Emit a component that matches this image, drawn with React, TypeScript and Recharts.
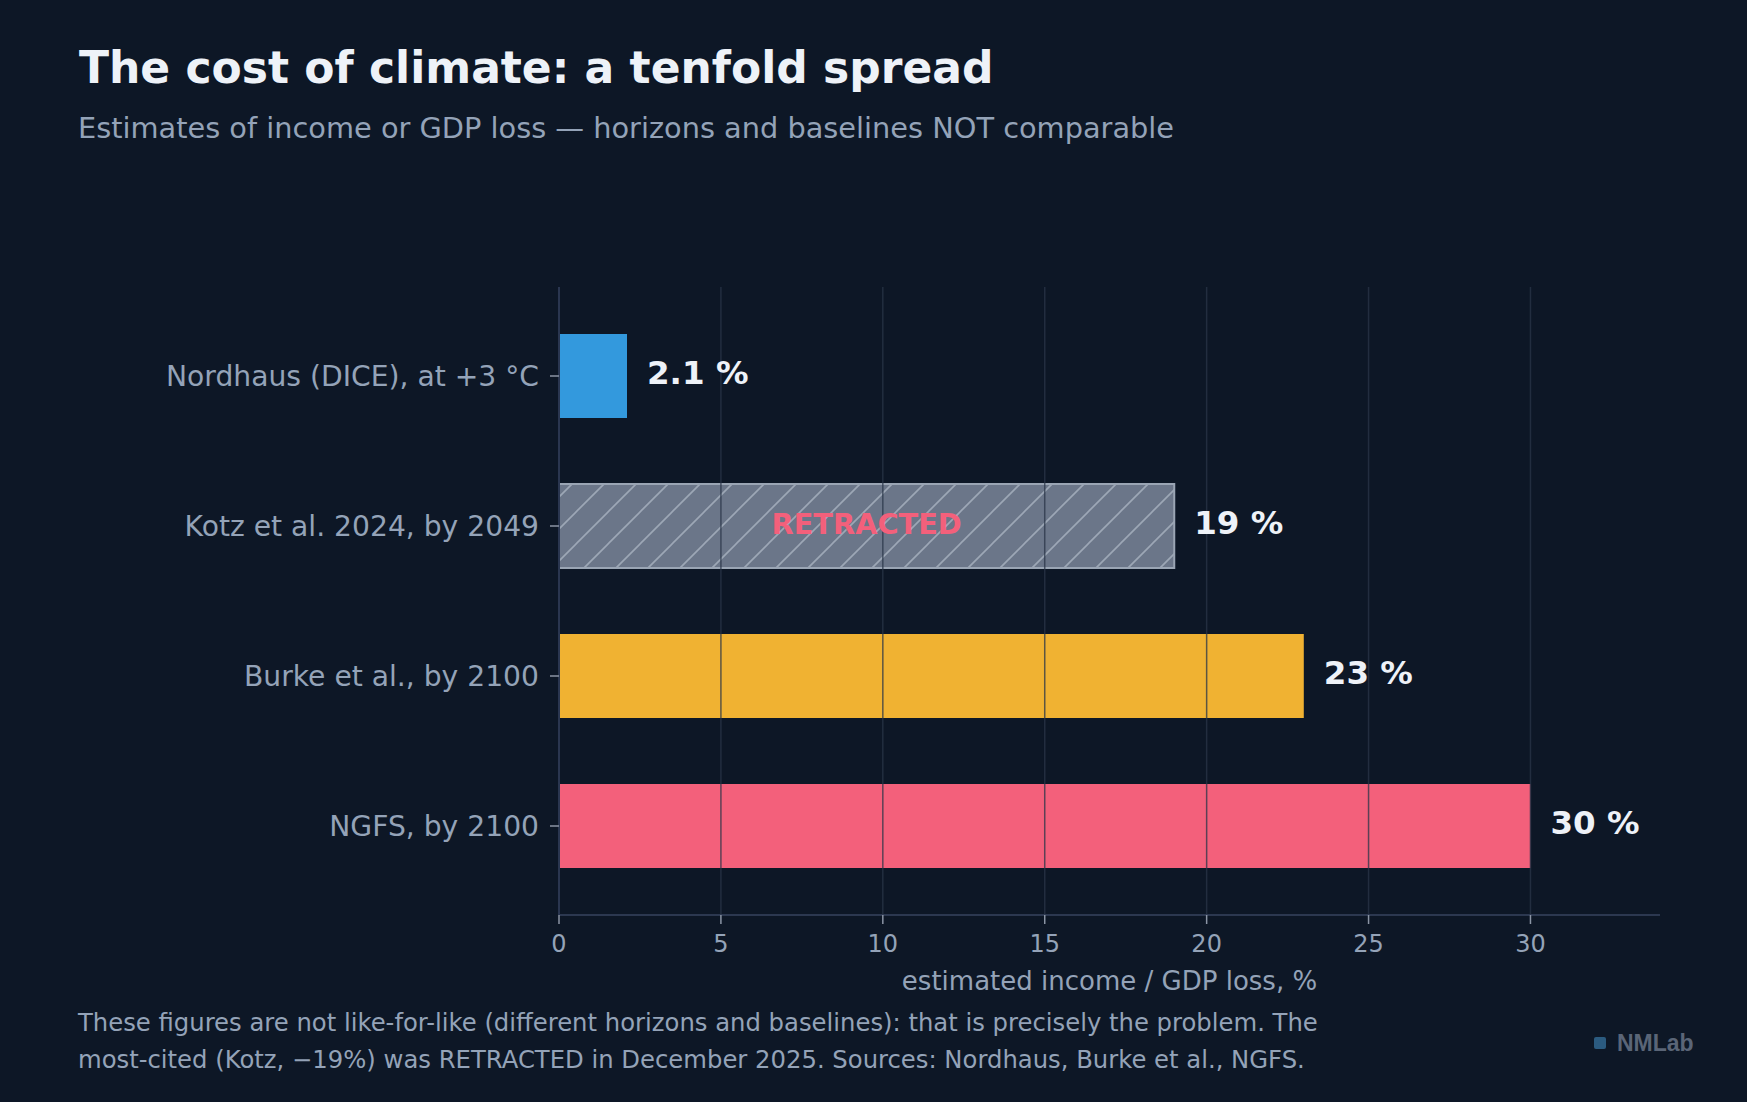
import { BarChart, Bar, XAxis, YAxis, Cell, LabelList, ReferenceLine } from 'recharts'

// ─── data ─────────────────────────────────────────────────────────────
const studies = [
  'Nordhaus (DICE), at +3 °C',
  'Kotz et al. 2024, by 2049',
  'Burke et al., by 2100',
  'NGFS, by 2100',
]
const lossPct = [2.1, 19, 23, 30]
const valueLabels = ['2.1 %', '19 %', '23 %', '30 %']
const barNotes = ['', 'RETRACTED', '', '']
const barColors = ['#3399dd', 'url(#hatchRetracted)', '#f0b232', '#f3607b']
const xTicks = [0, 5, 10, 15, 20, 25, 30]
const gridAt = [5, 10, 15, 20, 25, 30]

const W = 1747
const H = 1102
const BG = '#0d1726'
const FONT = '"DejaVu Sans", sans-serif'
const MUTED = '#94a3b8'

const rows = studies.map((name, i) => ({
  name,
  value: lossPct[i],
  label: valueLabels[i],
  note: barNotes[i],
}))

// value at the end of the bar, plus the RETRACTED stamp inside the Kotz bar
const renderBarLabel = (props: any) => {
  const { x = 0, y = 0, width = 0, height = 0, index = 0 } = props
  const row = rows[index]
  const cy = y + height / 2
  return (
    <g>
      <text
        x={x + width + 20}
        y={cy - 3}
        dominantBaseline="central"
        fontFamily={FONT}
        fontWeight="bold"
        fontSize={32.5}
        fill="#eef2f8"
      >
        {row.label}
      </text>
      {row.note && (
        <text
          x={x + width / 2}
          y={cy - 2}
          textAnchor="middle"
          dominantBaseline="central"
          fontFamily={FONT}
          fontWeight="bold"
          fontSize={28.8}
          fill="#f3607b"
        >
          {row.note}
        </text>
      )}
    </g>
  )
}

export default function App() {
  return (
    <div style={{ position: 'absolute', left: 0, top: 0, width: W, height: H, background: BG, overflow: 'hidden' }}>
      <BarChart
        width={W}
        height={H}
        data={rows}
        layout="vertical"
        margin={{ top: 287, right: 87, bottom: 107, left: 0 }}
        style={{ position: 'absolute', left: 0, top: 0 }}
      >
        <defs>
          <pattern id="hatchRetracted" patternUnits="userSpaceOnUse" width={32} height={32}>
            <rect width={32} height={32} fill="#6b7689" />
            <path
              d="M0,32 L32,0 M-8,8 L8,-8 M24,40 L40,24"
              stroke="#b3bdca"
              strokeWidth={1.6}
              strokeOpacity={0.7}
            />
          </pattern>
        </defs>
        <XAxis
          type="number"
          domain={[0, 34]}
          ticks={xTicks}
          allowDataOverflow
          height={80}
          axisLine={{ stroke: '#2c3850', strokeWidth: 2 }}
          tickLine={{ stroke: '#8b95a5', strokeWidth: 1.5 }}
          tickSize={9}
          tickMargin={11}
          tick={{ fontSize: 24, fill: MUTED, fontFamily: FONT }}
          label={{
            value: 'estimated income / GDP loss, %',
            position: 'insideBottom',
            offset: 5,
            fontSize: 26,
            fill: MUTED,
            fontFamily: FONT,
          }}
        />
        <YAxis
          type="category"
          dataKey="name"
          width={559}
          padding={{ top: 14, bottom: 14 }}
          axisLine={{ stroke: '#2a3650', strokeWidth: 2 }}
          tickLine={{ stroke: '#8b95a5', strokeWidth: 1.5 }}
          tickSize={9}
          tickMargin={11}
          tick={{ fontSize: 28.2, fill: MUTED, fontFamily: FONT }}
        />
        <Bar dataKey="value" barSize={84} isAnimationActive={false}>
          {rows.map((r, i) => (
            <Cell
              key={r.name}
              fill={barColors[i]}
              stroke={r.note ? '#9aa5b4' : 'none'}
              strokeWidth={r.note ? 2 : 0}
            />
          ))}
          <LabelList dataKey="value" content={renderBarLabel} />
        </Bar>
        {/* grid drawn over the bars, as in the original */}
        {gridAt.map((v) => (
          <ReferenceLine key={v} x={v} stroke="#2a3548" strokeOpacity={0.75} strokeWidth={1.5} />
        ))}
      </BarChart>

      <svg width={W} height={H} style={{ position: 'absolute', left: 0, top: 0, pointerEvents: 'none' }}>
        <text x={79} y={83} fontFamily={FONT} fontWeight="bold" fontSize={44} fill="#eef2f8">
          The cost of climate: a tenfold spread
        </text>
        <text x={78} y={138} fontFamily={FONT} fontSize={28.8} fill={MUTED}>
          Estimates of income or GDP loss — horizons and baselines NOT comparable
        </text>
        <text fontFamily={FONT} fontSize={24.3} fill={MUTED}>
          <tspan x={78} y={1031}>
            These figures are not like-for-like (different horizons and baselines): that is precisely the problem. The
          </tspan>
          <tspan x={78} y={1068}>
            most-cited (Kotz, −19%) was RETRACTED in December 2025. Sources: Nordhaus, Burke et al., NGFS.
          </tspan>
        </text>
        <rect x={1594} y={1037} width={12} height={12} rx={2} fill="#2b5b80" />
        <text x={1617} y={1051} fontFamily='"Liberation Sans", Arial, sans-serif' fontWeight="bold" fontSize={23} fill="#5a6577">
          NMLab
        </text>
      </svg>
    </div>
  )
}
